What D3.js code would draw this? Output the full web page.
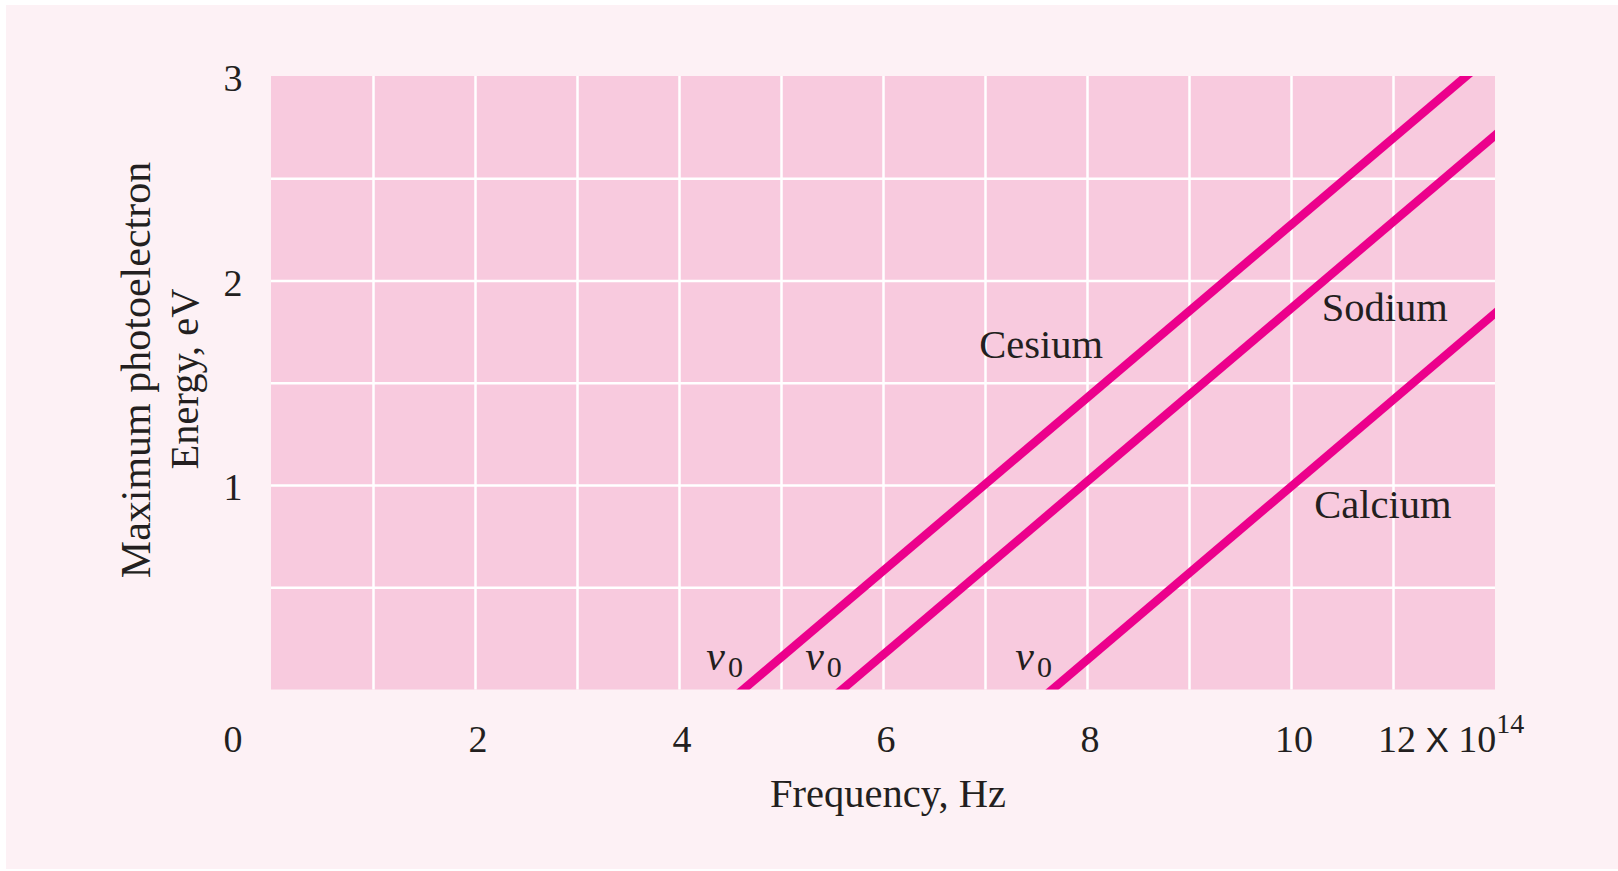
<!DOCTYPE html>
<html>
<head>
<meta charset="utf-8">
<script src="https://cdn.jsdelivr.net/npm/d3@7/dist/d3.min.js"></script>
<style>
  html, body { margin: 0; padding: 0; background: #ffffff; }
  svg { display: block; }
  text { font-family: "Liberation Serif", "DejaVu Serif", serif; fill: #231f20; }
</style>
</head>
<body>
<svg id="chart" width="1618" height="871"></svg>
<script>
// ---- data (frequency in units of 10^14 Hz, energy in eV) ----
const freqTicks = [0, 2, 4, 6, 8, 10, 12];
const energyTicks = [1, 2, 3];
const materials = ["Cesium", "Sodium", "Calcium"];
const thresholdFreq = [4.63, 5.60, 7.66];   // v0, where max energy = 0
const endFreq = [11.72, 12, 12];
const endEnergy = [3, 2.71, 1.84];

// ---- layout ----
const W = 1618, H = 871;
const plot = { left: 271, right: 1495, top: 76, bottom: 689.5 };
const FONT = 38;
const TITLE_FONT = 40.5;
const lineColor = "#ec008c";

const svg = d3.select("#chart");

// outer panel
svg.append("rect")
  .attr("x", 6).attr("y", 5).attr("width", W - 6).attr("height", H - 7)
  .attr("fill", "#fdf1f5");

const x = d3.scaleLinear().domain([0, 12]).range([plot.left, plot.right]);
const y = d3.scaleLinear().domain([0, 3]).range([plot.bottom, plot.top]);

// plot area
svg.append("rect")
  .attr("x", x(0)).attr("y", y(3))
  .attr("width", x(12) - x(0)).attr("height", y(0) - y(3))
  .attr("fill", "#f8cade");

// gridlines
const gx = svg.append("g")
  .attr("transform", `translate(0,${y(0)})`)
  .call(d3.axisBottom(x).tickValues(d3.range(1, 12)).tickSize(-(y(0) - y(3))).tickFormat(""));
gx.select(".domain").remove();
gx.selectAll("line").attr("stroke", "#ffffff").attr("stroke-width", 2.5);

const gy = svg.append("g")
  .attr("transform", `translate(${x(0)},0)`)
  .call(d3.axisLeft(y).tickValues(d3.range(0.5, 3, 0.5)).tickSize(-(x(12) - x(0))).tickFormat(""));
gy.select(".domain").remove();
gy.selectAll("line").attr("stroke", "#ffffff").attr("stroke-width", 2.5);

// clip
svg.append("clipPath").attr("id", "plotclip")
  .append("rect")
  .attr("x", x(0)).attr("y", y(3))
  .attr("width", x(12) - x(0)).attr("height", y(0) - y(3));

// lines
const series = materials.map((name, i) => ({
  name,
  pts: [[thresholdFreq[i], 0], [endFreq[i], endEnergy[i]]]
}));
const line = d3.line().x(d => x(d[0])).y(d => y(d[1]));

svg.append("g").attr("clip-path", "url(#plotclip)")
  .selectAll("path").data(series).join("path")
  .attr("d", d => {
    // extend slightly beyond both ends so the clip gives flat ends
    const [a, b] = d.pts;
    const s = (b[1] - a[1]) / (b[0] - a[0]);
    return line([[a[0] - 0.2, a[1] - 0.2 * s], [b[0] + 0.2, b[1] + 0.2 * s]]);
  })
  .attr("fill", "none")
  .attr("stroke", lineColor)
  .attr("stroke-width", 8.5);

// line labels (anchor points in data coordinates)
const labelAnchor = {
  Cesium: [7.55, 1.62],
  Sodium: [10.92, 1.80],
  Calcium: [10.90, 0.84]
};
svg.append("g").selectAll("text").data(materials).join("text")
  .attr("x", d => x(labelAnchor[d][0]))
  .attr("y", d => y(labelAnchor[d][1]))
  .attr("text-anchor", "middle")
  .attr("font-size", TITLE_FONT)
  .text(d => d);

// v0 labels
const v0 = svg.append("g").selectAll("text").data(thresholdFreq).join("text")
  .attr("x", d => x(d) - 37)
  .attr("y", 670);
v0.append("tspan").attr("font-style", "italic").attr("font-size", 42).text("v");
v0.append("tspan").attr("font-size", 30).attr("dy", 7).attr("dx", 3).text("0");

// x tick labels
const xl = svg.append("g");
freqTicks.forEach(v => {
  if (v === 0) {
    xl.append("text").attr("x", x(v) - 38).attr("y", 752)
      .attr("text-anchor", "middle").attr("font-size", FONT).text("0");
  } else if (v === 12) {
    const t = xl.append("text").attr("x", x(v) - 117).attr("y", 752)
      .attr("font-size", FONT);
    t.append("tspan").text("12 ");
    t.append("tspan").attr("font-family", "'Liberation Sans', Arial, sans-serif").attr("font-size", 35).text("X");
    t.append("tspan").text(" 10");
    t.append("tspan").attr("font-size", 28).attr("dy", -19).text("14");
  } else {
    xl.append("text").attr("x", x(v) + 3).attr("y", 752)
      .attr("text-anchor", "middle").attr("font-size", FONT).text(v);
  }
});

// y tick labels
svg.append("g").selectAll("text").data(energyTicks).join("text")
  .attr("x", 233)
  .attr("y", d => y(d) + 15)
  .attr("text-anchor", "middle")
  .attr("font-size", FONT)
  .text(d => d);

// axis titles
svg.append("text")
  .attr("x", (x(0) + x(12)) / 2 + 5)
  .attr("y", 807)
  .attr("text-anchor", "middle")
  .attr("font-size", TITLE_FONT)
  .text("Frequency, Hz");

svg.append("text")
  .attr("transform", "translate(150,370) rotate(-90)")
  .attr("text-anchor", "middle")
  .attr("font-size", 42)
  .text("Maximum photoelectron");

svg.append("text")
  .attr("transform", "translate(198,379) rotate(-90)")
  .attr("text-anchor", "middle")
  .attr("font-size", TITLE_FONT)
  .text("Energy, eV");
</script>
</body>
</html>
